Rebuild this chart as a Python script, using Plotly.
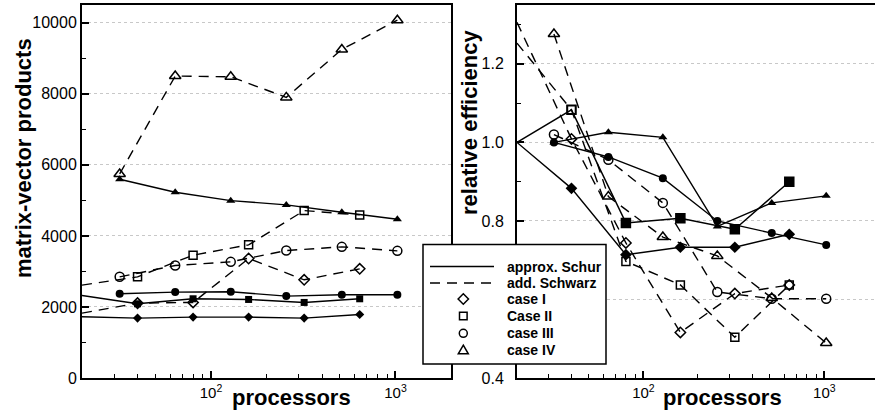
import math
import plotly.graph_objects as go

# ---------------- data ----------------
procs_a = [20, 40, 80, 160, 320, 640]      # cases I and II
procs_b = [32, 64, 128, 256, 512, 1024]    # cases III and IV

# matrix-vector products (left panel)
mv_schur_I = [1723, 1686, 1715, 1715, 1686, 1789]
mv_schur_II = [2323, 2089, 2230, 2211, 2127, 2230]
mv_schur_III = [2370, 2418, 2426, 2305, 2342, 2342]
mv_schur_IV = [5594, 5229, 4993, 4873, 4667, 4470]
mv_schwarz_I = [1827, 2108, 2127, 3363, 2764, 3073]
mv_schwarz_II = [2615, 2848, 3458, 3748, 4712, 4591]
mv_schwarz_III = [2848, 3166, 3270, 3588, 3692, 3579]
mv_schwarz_IV = [5744, 8499, 8480, 7899, 9249, 10073]

# relative efficiency (right panel)
eff_schur_I = [1.0, 0.883, 0.714, 0.733, 0.733, 0.766]
eff_schur_II = [1.0, 1.083, 0.795, 0.807, 0.779, 0.900]
eff_schur_III = [1.0, 0.963, 0.909, 0.800, 0.769, 0.739]
eff_schur_IV = [1.0, 1.026, 1.013, 0.786, 0.846, 0.864]
eff_schwarz_I = [1.306, 1.009, 0.744, 0.516, 0.615, 0.637]
eff_schwarz_II = [1.253, 1.083, 0.697, 0.637, 0.504, 0.637]
eff_schwarz_III = [1.020, 0.956, 0.846, 0.619, 0.602, 0.602]
eff_schwarz_IV = [1.276, 0.862, 0.759, 0.711, 0.604, 0.489]

x_tick_vals = [100, 1000]
x_tick_text = ["10<sup>2</sup>", "10<sup>3</sup>"]
legend_labels = ["approx. Schur", "add. Schwarz", "case I", "Case II", "case III", "case IV"]

# ---------------- layout helpers ----------------
W, H = 875, 414
MT, MB = 5, 36
PH = H - MT - MB


def pxx(x):
    return x / W


def pyy(y):
    return 1 - (y - MT) / PH


FONT = "Liberation Sans, Arial, Helvetica, sans-serif"
DASH = "10px,7px"

fig = go.Figure()


def add(x, y, symbol, size, dashed, xa, ya, filled):
    fig.add_trace(go.Scatter(
        x=x, y=y, mode="lines+markers",
        line=dict(color="black", width=1.4, dash=DASH if dashed else "solid"),
        marker=dict(symbol=symbol, size=size,
                    color="black",
                    line=dict(color="black", width=1.5 if not filled else 0)),
        xaxis=xa, yaxis=ya, showlegend=False, cliponaxis=False,
        hoverinfo="x+y"))


# left panel
add(procs_a, mv_schur_I, "diamond", 7, False, "x", "y", True)
add(procs_a, mv_schur_II, "square", 7, False, "x", "y", True)
add(procs_b, mv_schur_III, "circle", 8, False, "x", "y", True)
add(procs_b, mv_schur_IV, "triangle-up", 8, False, "x", "y", True)
add(procs_a, mv_schwarz_I, "diamond-open", 8, True, "x", "y", False)
add(procs_a, mv_schwarz_II, "square-open", 8, True, "x", "y", False)
add(procs_b, mv_schwarz_III, "circle-open", 9, True, "x", "y", False)
add(procs_b, mv_schwarz_IV, "triangle-up-open", 10, True, "x", "y", False)

# right panel
add(procs_a, eff_schur_I, "diamond", 9, False, "x2", "y2", True)
sym_schur_II = ["square-open" if p == 40 else "square" for p in procs_a]
add(procs_a, eff_schur_II, sym_schur_II, 9, False, "x2", "y2", True)
fig.data[-1].marker.line.width = 1.5
add(procs_b, eff_schur_III, "circle", 8, False, "x2", "y2", True)
add(procs_b, eff_schur_IV, "triangle-up", 8, False, "x2", "y2", True)
add(procs_a, eff_schwarz_I, "diamond-open", 8, True, "x2", "y2", False)
add(procs_a, eff_schwarz_II, "square-open", 8, True, "x2", "y2", False)
add(procs_b, eff_schwarz_III, "circle-open", 9, True, "x2", "y2", False)
add(procs_b, eff_schwarz_IV, "triangle-up-open", 10, True, "x2", "y2", False)

minor_x = [v * d for d in (10, 100) for v in range(2, 10) if not (v == 2 and d == 10)] + [2000]

common_x = dict(
    type="log", tickvals=x_tick_vals, ticktext=x_tick_text,
    ticks="inside", ticklen=7, tickwidth=1.5, tickcolor="black",
    minor=dict(tickvals=minor_x, ticks="inside", ticklen=4, tickwidth=1, tickcolor="black"),
    showline=True, linewidth=2, linecolor="black", showgrid=False, zeroline=False,
    tickfont=dict(family=FONT, size=15, color="black"), automargin=False,
)
common_y = dict(
    ticks="inside", ticklen=7, tickwidth=1.5, tickcolor="black",
    showline=True, linewidth=2, linecolor="black", zeroline=False,
    showgrid=True, gridcolor="#c8c8c8", griddash="dot", gridwidth=1,
    tickfont=dict(family=FONT, size=16, color="black"), automargin=False,
)

fig.update_layout(
    width=W, height=H, autosize=False,
    margin=dict(l=0, r=0, t=MT, b=MB, pad=0, autoexpand=False),
    paper_bgcolor="white", plot_bgcolor="white",
    font=dict(family=FONT, color="black"),
    xaxis=dict(common_x, domain=[pxx(82), pxx(451)],
               range=[math.log10(20), math.log10(2000)], mirror=True, anchor="y"),
    yaxis=dict(common_y, domain=[0, 1], range=[0, 10500], dtick=2000, tick0=0,
               tickformat="d",
               minor=dict(dtick=1000, tick0=0, ticks="inside", ticklen=4, tickwidth=1, tickcolor="black"),
               mirror=True, anchor="x"),
    xaxis2=dict(common_x, domain=[pxx(517), 1.0],
                range=[math.log10(20), 3.28], mirror=True, anchor="y2"),
    yaxis2=dict(common_y, domain=[0, 1], range=[0.4, 1.35], dtick=0.2, tick0=0.4,
                tickformat=".1f", ticklabelstandoff=8,
                minor=dict(dtick=0.1, tick0=0.4, ticks="inside", ticklen=4, tickwidth=1, tickcolor="black"),
                mirror=False, anchor="x2"),
    showlegend=False,
)

title_font = dict(family=FONT, size=22, color="black")
annotations = [
    dict(text="<b>matrix-vector products</b>", x=pxx(23), y=pyy(158), textangle=-90),
    dict(text="<b>processors</b>", x=pxx(291), y=pyy(397)),
    dict(text="<b>relative efficiency</b>", x=pxx(469), y=pyy(123), textangle=-90),
    dict(text="<b>processors</b>", x=pxx(722), y=pyy(397)),
]
for a in annotations:
    fig.add_annotation(xref="paper", yref="paper", showarrow=False,
                       xanchor="center", yanchor="middle", font=title_font, **a)

# ---------------- custom legend ----------------
shapes = []
shapes.append(dict(type="rect", xref="paper", yref="paper",
                   x0=pxx(423), x1=pxx(606), y0=pyy(364), y1=pyy(244.5),
                   fillcolor="white", line=dict(color="black", width=1.5), layer="above"))
row_y = [266.5, 283, 299, 316, 333.3, 350]
shapes.append(dict(type="line", xref="paper", yref="paper",
                   x0=pxx(430), x1=pxx(494), y0=pyy(row_y[0]), y1=pyy(row_y[0]),
                   line=dict(color="black", width=1.4), layer="above"))
shapes.append(dict(type="line", xref="paper", yref="paper",
                   x0=pxx(430), x1=pxx(494), y0=pyy(row_y[1]), y1=pyy(row_y[1]),
                   line=dict(color="black", width=1.4, dash=DASH), layer="above"))
cx = 463.3


def path(points):
    return "M " + " L ".join(f"{pxx(a):.5f},{pyy(b):.5f}" for a, b in points) + " Z"


mk_line = dict(color="black", width=1.5)
cy = row_y[2]
shapes.append(dict(type="path", xref="paper", yref="paper", layer="above", line=mk_line,
                   path=path([(cx, cy - 5.2), (cx + 5.2, cy), (cx, cy + 5.2), (cx - 5.2, cy)])))
cy = row_y[3]
shapes.append(dict(type="rect", xref="paper", yref="paper", layer="above", line=mk_line,
                   x0=pxx(cx - 3.8), x1=pxx(cx + 3.8), y0=pyy(cy + 3.8), y1=pyy(cy - 3.8)))
cy = row_y[4]
shapes.append(dict(type="circle", xref="paper", yref="paper", layer="above", line=mk_line,
                   x0=pxx(cx - 4), x1=pxx(cx + 4), y0=pyy(cy + 4), y1=pyy(cy - 4)))
cy = row_y[5]
shapes.append(dict(type="path", xref="paper", yref="paper", layer="above", line=mk_line,
                   path=path([(cx, cy - 4.8), (cx + 5, cy + 3.8), (cx - 5, cy + 3.8)])))
fig.update_layout(shapes=shapes)

for lab, yy in zip(legend_labels, row_y):
    fig.add_annotation(xref="paper", yref="paper", showarrow=False,
                       x=pxx(505), y=pyy(yy), xanchor="left", yanchor="middle",
                       text=f"<b>{lab}</b>",
                       font=dict(family=FONT, size=14, color="black"))

fig.write_html("out.html",
               config={"displayModeBar": False},
               post_script="document.body.style.margin='0';document.body.style.overflow='hidden';")
